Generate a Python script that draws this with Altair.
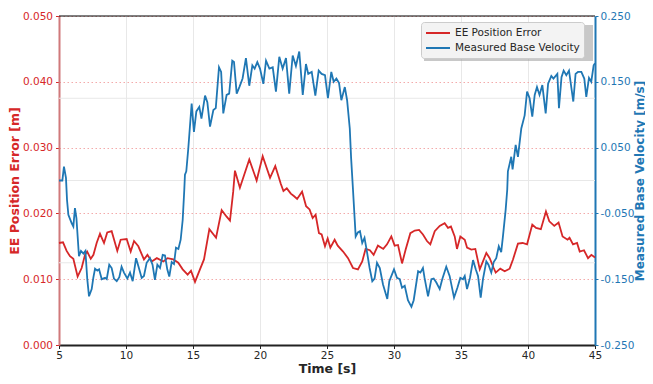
import altair as alt
import pandas as pd

# ---------------- data ----------------
t_err = [5.0, 5.3, 5.57, 5.82, 6.07, 6.39, 6.69, 6.94, 7.1, 7.37, 7.57, 7.81, 8.06, 8.36, 8.6, 8.93,
         9.35, 9.6, 10.05, 10.35, 10.6, 10.92, 11.34, 11.6, 11.92, 12.3, 12.79, 13.1, 13.53, 13.9,
         14.23, 14.6, 14.85, 15.15, 15.52, 15.82, 16.22, 16.72, 17.14, 17.51, 17.76, 18.0, 18.13,
         18.5, 19.2, 19.75, 20.2, 20.75, 21.14, 21.55, 21.75, 22.0, 22.3, 22.55, 22.77, 23.14, 23.44,
         23.7, 23.93, 24.15, 24.4, 24.6, 24.85, 25.05, 25.25, 25.57, 25.8, 26.2, 26.57, 26.94, 27.31,
         27.63, 27.88, 28.2, 28.48, 28.8, 29.2, 29.48, 29.8, 30.05, 30.3, 30.6, 30.87, 31.22, 31.55,
         31.87, 32.16, 32.46, 32.71, 33.04, 33.41, 33.78, 34.03, 34.25, 34.53, 34.7, 34.95, 35.28,
         35.45, 35.77, 36.07, 36.4, 36.64, 36.89, 37.14, 37.44, 37.59, 37.93, 38.26, 38.63, 38.88,
         39.25, 39.6, 39.93, 40.32, 40.6, 40.96, 41.34, 41.59, 41.96, 42.28, 42.58, 42.95, 43.1,
         43.36, 43.66, 43.86, 44.18, 44.48, 44.73, 45.0]
ee_err = [0.0155, 0.0156, 0.0143, 0.0135, 0.0131, 0.0104, 0.0117, 0.0137, 0.0142, 0.0131, 0.0137,
          0.0155, 0.0169, 0.0155, 0.0171, 0.0173, 0.0143, 0.0160, 0.0161, 0.0142, 0.0158, 0.0150,
          0.0130, 0.0137, 0.0127, 0.0132, 0.0127, 0.0132, 0.0130, 0.0125, 0.0115, 0.0107, 0.0113,
          0.0096, 0.0115, 0.0130, 0.0176, 0.0163, 0.0205, 0.0195, 0.0189, 0.0233, 0.0265, 0.0239,
          0.0282, 0.0250, 0.0287, 0.0254, 0.0272, 0.0245, 0.0234, 0.0238, 0.0230, 0.0226, 0.0222,
          0.0233, 0.0211, 0.0206, 0.0193, 0.0198, 0.0170, 0.0168, 0.0150, 0.0162, 0.0148, 0.0160,
          0.0151, 0.0142, 0.0132, 0.0117, 0.0115, 0.0127, 0.0146, 0.0144, 0.0137, 0.0151, 0.0146,
          0.0153, 0.0165, 0.0151, 0.0152, 0.0124, 0.0145, 0.0170, 0.0174, 0.0175, 0.0168, 0.0158,
          0.0153, 0.0173, 0.0181, 0.0185, 0.0178, 0.0180, 0.0165, 0.0146, 0.0165, 0.0160, 0.0148,
          0.0145, 0.0146, 0.0115, 0.0127, 0.0140, 0.0132, 0.0117, 0.0110, 0.0116, 0.0112, 0.0116,
          0.0130, 0.0154, 0.0155, 0.0153, 0.0183, 0.0178, 0.0176, 0.0203, 0.0188, 0.0181, 0.0186,
          0.0165, 0.0160, 0.0163, 0.0153, 0.0155, 0.0142, 0.0144, 0.0132, 0.0137, 0.0133]

t_vel = [5.0, 5.25, 5.37, 5.52, 5.6, 5.7, 5.95, 6.07, 6.19, 6.3, 6.49, 6.64, 6.82, 6.97, 7.11, 7.24,
         7.44, 7.56, 7.69, 7.86, 7.99, 8.19, 8.44, 8.56, 8.75, 8.93, 9.1, 9.31, 9.5, 9.67, 9.85, 10.1,
         10.3, 10.5, 10.75, 10.92, 11.17, 11.34, 11.54, 11.79, 11.98, 12.16, 12.34, 12.54, 12.74,
         12.91, 13.08, 13.23, 13.41, 13.58, 13.73, 13.91, 14.08, 14.23, 14.35, 14.4, 14.5, 14.65,
         14.9, 15.07, 15.25, 15.47, 15.63, 15.9, 16.07, 16.27, 16.52, 16.7, 16.94, 17.1, 17.26,
         17.51, 17.7, 17.93, 18.06, 18.26, 18.46, 18.7, 18.95, 19.2, 19.43, 19.6, 19.8, 20.0, 20.25,
         20.45, 20.7, 20.95, 21.19, 21.44, 21.69, 21.94, 22.18, 22.44, 22.68, 22.93, 23.19, 23.43,
         23.6, 23.86, 24.13, 24.38, 24.6, 24.85, 25.07, 25.32, 25.5, 25.7, 25.9, 26.07, 26.33, 26.5,
         26.7, 26.8, 26.94, 27.07, 27.14, 27.3, 27.46, 27.63, 27.8, 27.98, 28.18, 28.38, 28.55,
         28.73, 28.94, 29.18, 29.5, 29.65, 30.0, 30.22, 30.43, 30.6, 30.8, 31.04, 31.3, 31.47, 31.8,
         31.97, 32.16, 32.28, 32.54, 32.79, 32.96, 33.16, 33.41, 33.6, 33.9, 34.15, 34.48, 34.73,
         34.95, 35.15, 35.28, 35.45, 35.67, 35.9, 36.1, 36.27, 36.47, 36.64, 36.89, 37.05, 37.26,
         37.44, 37.63, 37.82, 38.0, 38.13, 38.33, 38.45, 38.5, 38.75, 38.85, 39.08, 39.25, 39.5,
         39.75, 39.93, 40.12, 40.32, 40.5, 40.67, 40.86, 41.07, 41.32, 41.5, 41.74, 41.9, 42.19,
         42.31, 42.5, 42.66, 42.86, 43.06, 43.38, 43.55, 43.73, 43.98, 44.2, 44.35, 44.55, 44.72,
         44.9, 45.0]
base_vel = [0.000, 0.000, 0.021, 0.004, -0.030, -0.052, -0.065, -0.070, -0.042, -0.057, -0.115,
            -0.107, -0.111, -0.107, -0.150, -0.176, -0.165, -0.148, -0.134, -0.137, -0.135, -0.150,
            -0.148, -0.150, -0.128, -0.133, -0.149, -0.153, -0.147, -0.131, -0.140, -0.149, -0.140,
            -0.153, -0.118, -0.130, -0.148, -0.145, -0.125, -0.118, -0.128, -0.151, -0.128, -0.133,
            -0.113, -0.114, -0.135, -0.146, -0.124, -0.127, -0.102, -0.104, -0.090, -0.060, -0.014,
            0.009, 0.014, 0.049, 0.117, 0.074, 0.105, 0.112, 0.094, 0.129, 0.119, 0.082, 0.107,
            0.110, 0.172, 0.165, 0.102, 0.130, 0.132, 0.182, 0.180, 0.132, 0.142, 0.155, 0.186,
            0.144, 0.175, 0.170, 0.180, 0.170, 0.147, 0.182, 0.170, 0.172, 0.135, 0.188, 0.170,
            0.186, 0.132, 0.190, 0.174, 0.196, 0.130, 0.177, 0.162, 0.165, 0.129, 0.167, 0.162,
            0.160, 0.125, 0.165, 0.150, 0.155, 0.148, 0.122, 0.142, 0.122, 0.079, 0.034, -0.014,
            -0.060, -0.085, -0.079, -0.077, -0.095, -0.087, -0.108, -0.133, -0.153, -0.149, -0.125,
            -0.133, -0.158, -0.180, -0.153, -0.135, -0.148, -0.150, -0.163, -0.160, -0.182, -0.192,
            -0.182, -0.138, -0.140, -0.133, -0.148, -0.176, -0.150, -0.149, -0.155, -0.165, -0.150,
            -0.131, -0.145, -0.178, -0.163, -0.148, -0.150, -0.145, -0.165, -0.148, -0.121, -0.135,
            -0.145, -0.178, -0.150, -0.123, -0.128, -0.140, -0.124, -0.118, -0.100, -0.109, -0.085,
            -0.045, -0.014, 0.014, 0.036, 0.017, 0.054, 0.036, 0.079, 0.099, 0.135, 0.125, 0.097,
            0.130, 0.142, 0.130, 0.145, 0.102, 0.147, 0.159, 0.155, 0.162, 0.110, 0.157, 0.167,
            0.160, 0.167, 0.120, 0.162, 0.165, 0.165, 0.155, 0.127, 0.156, 0.150, 0.175, 0.178]

series_names = ["EE Position Error", "Measured Base Velocity"]
series_colors = ["#d62728", "#1f77b4"]
x_ticks = [5, 10, 15, 20, 25, 30, 35, 40, 45]
left_ticks = [0.0, 0.01, 0.02, 0.03, 0.04, 0.05]
right_ticks = [-0.25, -0.15, -0.05, 0.05, 0.15, 0.25]
minor_grid = [0.0125, 0.025, 0.0375]

# ---------------- chart ----------------
W, H = 536, 329
FONT = "DejaVu Sans"

df_err = pd.DataFrame({"t": t_err, "v": ee_err, "series": series_names[0]})
df_vel = pd.DataFrame({"t": t_vel, "v": base_vel, "series": series_names[1]})
df_grid = pd.DataFrame({"g": minor_grid})

x_scale = alt.Scale(domain=[5, 45], nice=False, zero=False)
left_scale = alt.Scale(domain=[0, 0.05], nice=False, zero=False)
right_scale = alt.Scale(domain=[-0.25, 0.25], nice=False, zero=False)

x_axis = alt.Axis(
    values=x_ticks, title="Time [s]", format="d", labelFlush=False,
    grid=True, gridColor="#e8e8e8", gridWidth=1,
    domainColor="#222222", domainWidth=2, tickColor="#222222", tickSize=3.5,
    labelColor="#262626", labelFont=FONT, labelFontSize=10.5, labelPadding=2,
    titleFont=FONT, titleFontSize=12.5, titleFontWeight="bold", titleColor="#262626",
    titlePadding=1,
)

color = alt.Color(
    "series:N",
    scale=alt.Scale(domain=series_names, range=series_colors),
    legend=alt.Legend(
        title=None, orient="none", legendX=362, legendY=6,
        fillColor="#f3f3f3", strokeColor="#cccccc", cornerRadius=3, padding=4,
        symbolType="M-1,0L3,0", symbolSize=144, symbolStrokeWidth=2,
        symbolFillColor="transparent",
        labelFont=FONT, labelFontSize=10.5, labelColor="#262626", labelLimit=300,
        rowPadding=2, labelOffset=16,
    ),
)

grid_rules = alt.Chart(df_grid).mark_rule(color="#e8e8e8", strokeWidth=1).encode(
    y=alt.Y("g:Q", scale=left_scale, axis=None)
)

shadow = alt.Chart(pd.DataFrame({"a": [0]})).mark_rect(color="#9a9a9a", opacity=0.55).encode(
    x=alt.value(365), x2=alt.value(534), y=alt.value(9), y2=alt.value(45)
)

top_border = alt.Chart(pd.DataFrame({"a": [0]})).mark_rule(color="black", strokeWidth=1.2).encode(
    y=alt.value(0), x=alt.value(0), x2=alt.value(W)
)

err_line = alt.Chart(df_err).mark_line(strokeWidth=1.8).encode(
    x=alt.X("t:Q", scale=x_scale, axis=x_axis),
    y=alt.Y("v:Q", scale=left_scale, axis=alt.Axis(
        values=left_ticks, format=".3f", title="EE Position Error [m]", orient="left",
        grid=True, gridColor="#f2a0a0", gridDash=[1.5, 2.5], gridWidth=0.9,
        domainColor="#d0797b", domainWidth=2, tickColor="#d62728", tickSize=3.5,
        labelColor="#d62728", labelFont=FONT, labelFontSize=10.5, labelPadding=3,
        titleFont=FONT, titleFontSize=12.5, titleFontWeight="bold", titleColor="#d62728",
        titlePadding=1,
    )),
    color=color,
)

vel_line = alt.Chart(df_vel).mark_line(strokeWidth=1.8).encode(
    x=alt.X("t:Q", scale=x_scale, axis=x_axis),
    y=alt.Y("v:Q", scale=right_scale, axis=alt.Axis(
        values=right_ticks, title="Measured Base Velocity [m/s]", orient="right",
        labelExpr="(datum.value < 0 ? '-' : '') + format(abs(datum.value), '.3f')",
        grid=False,
        domainColor="#1f77b4", domainWidth=2, tickColor="#1f77b4", tickSize=3,
        labelColor="#1f77b4", labelFont=FONT, labelFontSize=10.5, labelPadding=2,
        titleFont=FONT, titleFontSize=12, titleFontWeight="bold", titleColor="#1f77b4",
        titleAngle=270, titleBaseline="middle", titleAlign="center",
        titleX=44, titleY=H / 2,
    )),
    color=color,
)

chart = (
    alt.layer(grid_rules, err_line, vel_line, top_border, shadow)
    .resolve_scale(y="independent")
    .properties(
        width=W, height=H,
        autosize=alt.AutoSizeParams(type="none"),
        padding={"left": 51, "top": 8, "right": 50, "bottom": 31},
        background="white",
    )
    .configure_view(stroke=None)
)

chart.save("out.html", embed_options={"renderer": "svg", "actions": False})
